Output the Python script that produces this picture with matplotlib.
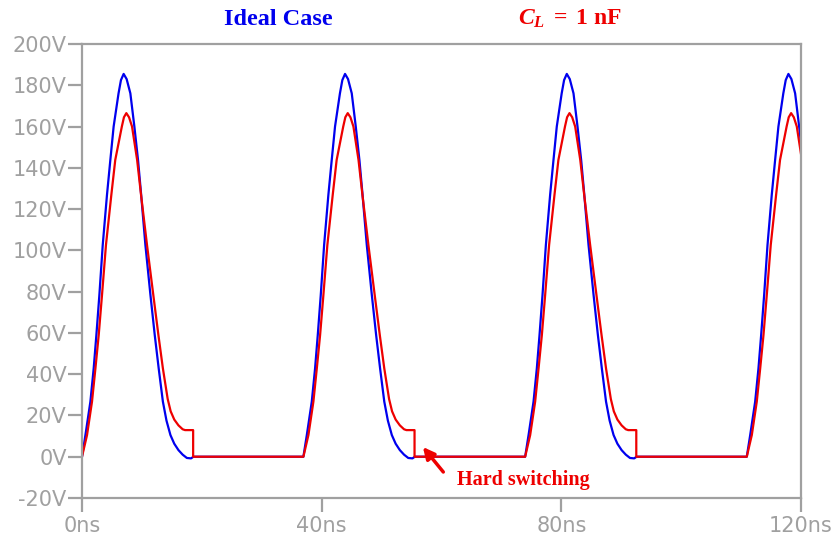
import numpy as np
import matplotlib
matplotlib.use("Agg")
import matplotlib.pyplot as plt

# pulse start times (ns)
pulse_start = [0.0, 36.95, 73.96, 110.95]

# ideal case: one pulse, time since pulse start (ns) and voltage (V)
ideal_t = [0.0, 0.57, 1.4, 1.95, 2.4, 2.9, 3.46, 4.17, 4.73, 5.28, 6.1, 6.5,
           6.95, 7.45, 8.07, 8.74, 9.35, 9.85, 10.58, 11.42, 12.14, 12.8, 13.5,
           14.1, 14.76, 15.4, 16.1, 16.8, 17.5, 18.2, 18.6]
ideal_v = [0, 10.5, 26.7, 42.8, 59, 78.4, 102.6, 126.9, 143.8, 160, 176.1, 182.5,
           185.5, 183, 176.1, 160, 143.8, 127.7, 102.6, 78.4, 59, 42.8, 26.7,
           17.5, 10.5, 6.3, 3.2, 1.0, -0.6, -0.8, 0]

# C_L = 1 nF: one pulse
cl_t = [0.0, 0.84, 1.67, 2.24, 2.79, 3.34, 4.0, 4.9, 5.55, 6.65, 7.0, 7.4,
        7.85, 8.35, 9.2, 9.85, 10.85, 11.9, 12.75, 13.5, 14.3, 14.8, 15.4,
        16.1, 16.8, 17.2, 18.55, 18.55]
cl_v = [0, 10.5, 26.7, 42.8, 59, 78.4, 102.6, 127, 143.8, 160, 164.5, 166.5,
        164.5, 160, 143.8, 127, 102.6, 78.4, 59, 42.8, 28, 22, 18,
        15.2, 13.3, 12.9, 12.9, 0]

y_ticks = list(range(-20, 201, 20))
y_labels = ["{}V".format(v) for v in y_ticks]
x_ticks = [0, 40, 80, 120]
x_labels = ["{}ns".format(v) for v in x_ticks]

blue = "#0000ee"
red = "#ee0000"
grey = "#a0a0a0"


def train(shape_t, shape_v):
    t = np.concatenate([np.array(shape_t) + s for s in pulse_start])
    v = np.concatenate([np.array(shape_v, dtype=float) for s in pulse_start])
    return t, v


fig = plt.figure(figsize=(8.38, 5.39), dpi=100)
ax = fig.add_axes([82 / 838, 41 / 539, 719 / 838, 454 / 539])

t, v = train(ideal_t, ideal_v)
ax.plot(t, v, color=blue, lw=1.6, solid_joinstyle="round")
t, v = train(cl_t, cl_v)
ax.plot(t, v, color=red, lw=1.6, solid_joinstyle="round")

ax.set_xlim(0, 120)
ax.set_ylim(-20, 200)
ax.set_xticks(x_ticks)
ax.set_xticklabels(x_labels)
ax.set_yticks(y_ticks)
ax.set_yticklabels(y_labels)

for sp in ax.spines.values():
    sp.set_color(grey)
    sp.set_linewidth(1.6)
ax.tick_params(axis="both", direction="out", length=10, width=1.6, color=grey,
               labelcolor=grey, labelsize=15)
ax.tick_params(axis="y", pad=1)
ax.tick_params(axis="x", pad=3)

# titles
fig.text(278 / 838, 1 - 25 / 539, "Ideal Case", color=blue, ha="center",
         va="baseline", fontsize=17.5, fontweight="bold", family="Liberation Serif")
plt.rcParams["mathtext.fontset"] = "custom"
plt.rcParams["mathtext.rm"] = "Liberation Serif:bold"
plt.rcParams["mathtext.it"] = "Liberation Serif:italic:bold"
plt.rcParams["mathtext.bf"] = "Liberation Serif:bold"
fig.text(570 / 838, 1 - 25 / 539, r"$C_L\;=\;1\ \mathrm{nF}$", color=red, ha="center",
         va="baseline", fontsize=17)

# hard switching note
ax.annotate("", xy=(56.9, 4.7), xytext=(60.3, -7.4),
            arrowprops=dict(arrowstyle="-|>", color=red, lw=2.5, mutation_scale=17,
                            shrinkA=0, shrinkB=0))
ax.text(62.6, -13.7, "Hard switching", color=red, ha="left", va="baseline",
        fontsize=14.5, fontweight="bold", family="Liberation Serif")

fig.savefig("out.png", dpi=100)
